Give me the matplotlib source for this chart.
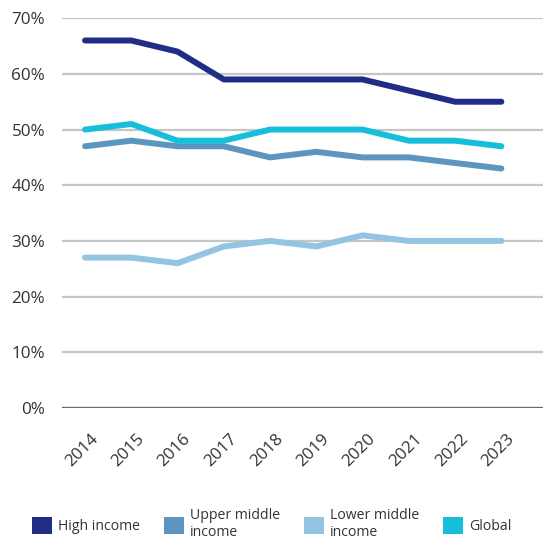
import matplotlib
matplotlib.use("Agg")
import matplotlib.pyplot as plt
from matplotlib.patches import Patch
from matplotlib.ticker import FuncFormatter
from matplotlib.transforms import ScaledTranslation

years = ["2014", "2015", "2016", "2017", "2018", "2019", "2020", "2021", "2022", "2023"]
high_income = [66, 66, 64, 59, 59, 59, 59, 57, 55, 55]
upper_middle = [47, 48, 47, 47, 45, 46, 45, 45, 44, 43]
lower_middle = [27, 27, 26, 29, 30, 29, 31, 30, 30, 30]
global_avg = [50, 51, 48, 48, 50, 50, 50, 48, 48, 47]

series_names = ["High income", "Upper middle\nincome", "Lower middle\nincome", "Global"]
series_values = [high_income, upper_middle, lower_middle, global_avg]
colors = ["#1f2d86", "#5b95c0", "#93c4e1", "#17bedb"]

plt.rcParams['font.family'] = ['Open Sans', 'DejaVu Sans']

fig = plt.figure(figsize=(5.43, 5.52), dpi=100)
ax = fig.add_axes([0.114, 0.261, 0.886, 0.706])

x = list(range(len(years)))
for name, vals, c in zip(series_names, series_values, colors):
    ax.plot(x, vals, color=c, lw=4.3, solid_capstyle='round', solid_joinstyle='round', zorder=3)

ax.set_ylim(0, 70)
ax.set_yticks(range(0, 71, 10))
ax.yaxis.set_major_formatter(FuncFormatter(lambda v, p: f"{int(v)}%"))
ax.set_xlim(-0.5, 9.9)
ax.set_xticks(x)

for v in range(10, 71, 10):
    ax.axhline(v, color='#c6c6c6', lw=1.6, zorder=1)
ax.axhline(0, color='#6b6b6b', lw=2.4, zorder=2)

for s in ax.spines.values():
    s.set_visible(False)
ax.tick_params(axis='both', length=0, labelsize=12.3, colors='#333333')
ax.tick_params(axis='y', pad=12)
ax.tick_params(axis='x', pad=8)

ax.set_xticklabels(years, rotation=45, ha='right', rotation_mode='anchor')
offset = ScaledTranslation(5 / 100, -12 / 100, fig.dpi_scale_trans)
for lbl in ax.get_xticklabels():
    lbl.set_transform(lbl.get_transform() + offset)

handles = [Patch(facecolor=c, edgecolor='none') for c in colors]
fig.legend(handles, series_names, loc='center', bbox_to_anchor=(0.5, 0.05), ncol=4,
           frameon=False, handlelength=1.45, handleheight=1.45, columnspacing=1.7,
           handletextpad=0.4, fontsize=10.1, labelcolor='#333333')

fig.savefig("out.png", dpi=100)
